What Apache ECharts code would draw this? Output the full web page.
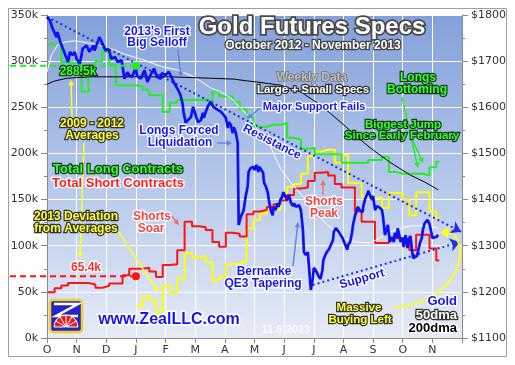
<!DOCTYPE html>
<html><head><meta charset="utf-8">
<script src="https://cdn.jsdelivr.net/npm/echarts@6/dist/echarts.min.js"></script>
<style>html,body{margin:0;padding:0;background:#fff}#c{width:515px;height:365px}</style>
</head><body><div id="c"></div>
<script>
// ---- axis / tick labels ----
const monthLabels = ['O','N','D','J','F','M','A','M','J','J','A','S','O','N',''];
const monthStartDays = [0,31,61,92,123,151,182,212,243,273,304,335,365,396,426]; // days from 2012-10-01
const leftTicks = {min:0, max:350, step:50};
const rightTicks = {min:1100, max:1800, step:100};

// ---- weekly COT data (thousands of contracts), first week 2012-10-02 ----
const firstWeekDay = 1;
const totalLongs = [318,320,299,298,298,267,296,300,310,296,274,274,274,273,269,263,263,245,255,258,258,258,258,256,267,262,262,256,248,240,229,229,231,231,233,217,215,205,206,199,199,199,199,190,190,190,190,193,193,196,180,178,178,178,178,176,185,191];
const totalShorts = [49.5,54,57,59.5,59.5,59.5,58,54.5,56.5,59,59,68,75,75,76,72,66,79,80,95,126,121,120,117,104,99,114,113,110,134,137,139,142,145,149,155,162,163,170,179,180,176,167,163,163,137,126,126,103,103,108,108,107,95,112,112,97,84];
const deviationStartWeek = 13;
const deviation2013 = [35,45,41,28,57,49,64,92,87,89,82,62,66,80,81,83,119,128,135,139,139,150,164,167,178,197,202,204,204,190,198,168,168,153,152,152,141,157,157,150,133,158,158,137,130];

// ---- gold (day offset from 2012-10-01, $/oz) ----
const goldPrice = [[0,1796],[3,1788],[6,1770],[10,1752],[11,1763],[14,1741],[16,1738],[20,1709],[22,1698],[24,1720],[27,1713],[29,1720],[31,1705],[34,1694],[36,1713],[37,1727],[41,1734],[44,1720],[48,1734],[49,1723],[53,1745],[54,1752],[58,1734],[60,1723],[61,1720],[63,1727],[65,1716],[66,1705],[70,1709],[73,1698],[77,1702],[80,1662],[82,1662],[83,1676],[85,1669],[88,1666],[92,1687],[93,1669],[97,1662],[101,1680],[104,1655],[108,1673],[111,1684],[114,1666],[118,1662],[119,1674],[123,1670],[126,1677],[129,1663],[131,1653],[135,1637],[137,1627],[139,1609],[140,1590],[142,1566],[144,1572],[147,1579],[149,1601],[150,1594],[152,1579],[154,1568],[157,1572],[159,1588],[160,1577],[162,1590],[164,1601],[167,1612],[170,1601],[175,1594],[178,1590],[181,1583],[183,1577],[185,1555],[186,1568],[188,1562],[190,1544],[191,1557],[193,1546],[195,1523],[196,1345],[198,1362],[201,1377],[203,1406],[205,1428],[206,1460],[208,1468],[211,1471],[212,1464],[214,1475],[216,1460],[217,1471],[219,1468],[221,1458],[222,1436],[224,1428],[226,1414],[227,1399],[229,1377],[231,1366],[232,1384],[234,1377],[236,1392],[237,1384],[239,1399],[241,1406],[242,1416],[244,1414],[246,1399],[248,1410],[250,1392],[252,1386],[253,1392],[255,1384],[258,1388],[260,1377],[262,1334],[263,1286],[265,1280],[267,1286],[268,1258],[270,1204],[272,1228],[273,1252],[275,1247],[277,1247],[278,1234],[280,1228],[282,1247],[283,1269],[286,1284],[288,1280],[289,1293],[291,1291],[293,1312],[294,1330],[296,1338],[298,1334],[299,1330],[301,1334],[303,1317],[304,1312],[306,1302],[308,1291],[309,1302],[311,1308],[313,1328],[314,1345],[316,1364],[318,1366],[319,1384],[321,1377],[324,1373],[325,1388],[327,1403],[329,1412],[330,1419],[332,1408],[334,1399],[335,1408],[337,1377],[339,1386],[340,1386],[342,1382],[344,1377],[345,1364],[347,1323],[349,1319],[350,1345],[352,1308],[354,1319],[356,1308],[357,1328],[359,1317],[360,1338],[363,1308],[365,1317],[366,1297],[368,1323],[370,1295],[371,1312],[373,1321],[375,1286],[376,1273],[378,1271],[380,1278],[381,1276],[383,1306],[385,1317],[386,1334],[388,1349],[390,1351],[391,1356],[393,1347],[395,1328],[396,1317],[398,1319],[400,1319],[402,1323]];
const gold50dma = [[0,1676],[5,1715],[11,1735],[18,1741],[29,1744],[39,1741],[49,1737],[60,1731],[70,1724],[80,1715],[90,1709],[101,1702],[111,1694],[121,1687],[134,1681],[150,1666],[167,1642],[178,1633],[188,1620],[198,1598],[205,1583],[216,1549],[229,1514],[239,1468],[250,1436],[265,1399],[275,1373],[286,1347],[294,1334],[304,1317],[316,1308],[332,1306],[342,1317],[352,1330],[363,1338],[373,1343],[383,1343],[393,1343],[402,1338]];
const gold200dma = [[0,1650],[8,1657],[21,1663],[44,1666],[85,1666],[126,1666],[167,1663],[191,1661],[205,1657],[214,1655],[239,1648],[260,1633],[280,1605],[301,1568],[316,1540],[332,1512],[352,1481],[373,1453],[388,1438],[402,1421]];

// averages & trend lines (values)
const longsAvgLevel = 295, longsAvgText = '288.5k';
const shortsAvgLevel = 67, shortsAvgText = '65.4k';
const averagesDay = 92; // 2013-01-01
const resistanceLine = [[0,1796],[425,1330]];
const supportLine = [[272,1215],[424,1308]];

function toM(day){
  for(let k=0;k<monthStartDays.length-1;k++){
    const s=monthStartDays[k], e=monthStartDays[k+1];
    if(day<e) return k+(day-s)/(e-s);
  }
  return monthStartDays.length-1;
}
function weekly(vals, startWeek){
  const out = vals.map((v,j)=>[toM(firstWeekDay+7*(startWeek+j)), v]);
  const lastDay = firstWeekDay+7*(startWeek+vals.length-1)+3;
  out.push([toM(lastDay), vals[vals.length-1]]);
  return out;
}
const daily = arr => arr.map(p=>[toM(p[0]), p[1]]);

const FONT = '"Liberation Sans", Arial, sans-serif';
const AXF = '"DejaVu Sans", Verdana, sans-serif';

const chart = echarts.init(document.getElementById('c'));
const option = {
  animation:false,
  backgroundColor:'#ffffff',
  grid:{left:47,right:53,top:15,bottom:27,show:true,borderWidth:0,
    backgroundColor:{type:'linear',x:0,y:0,x2:0,y2:1,colorStops:[{offset:0,color:'#82a0da'},{offset:0.5,color:'#b4c6ea'},{offset:1,color:'#e6ecf6'}]}},
  xAxis:{type:'value',min:0,max:14,interval:1,
    axisLine:{show:true,lineStyle:{color:'#8a8a8a'}},
    axisTick:{show:true,length:5,lineStyle:{color:'#8a8a8a'}},
    axisLabel:{formatter:v=>monthLabels[v]||'',color:'#333',fontSize:11,fontFamily:AXF,margin:7,showMaxLabel:true},
    splitLine:{show:true,lineStyle:{color:'#ffffff',width:1}}},
  yAxis:[
    {type:'value',position:'left',min:leftTicks.min,max:leftTicks.max,interval:leftTicks.step,
     axisLine:{show:true,lineStyle:{color:'#8a8a8a'}},
     axisTick:{show:true,length:6,lineStyle:{color:'#8a8a8a'}},
     minorTick:{show:true,splitNumber:2,length:3,lineStyle:{color:'#8a8a8a'}},
     axisLabel:{formatter:v=>v+'k',color:'#333',fontSize:11,fontFamily:AXF,margin:9},
     splitLine:{show:true,lineStyle:{color:'#ffffff',width:1}}},
    {type:'value',position:'right',min:rightTicks.min,max:rightTicks.max,interval:rightTicks.step,
     axisLine:{show:true,lineStyle:{color:'#8a8a8a'}},
     axisTick:{show:true,length:6,lineStyle:{color:'#8a8a8a'}},
     minorTick:{show:true,splitNumber:2,length:3,lineStyle:{color:'#8a8a8a'}},
     axisLabel:{formatter:v=>'$'+v,color:'#333',fontSize:11,fontFamily:AXF,margin:9},
     splitLine:{show:false}}
  ],
  series:[
    {type:'line',name:'deviation',data:weekly(deviation2013,deviationStartWeek),step:'end',symbol:'none',yAxisIndex:0,lineStyle:{color:'#ffff00',width:2},z:2},
    {type:'line',name:'shorts',data:weekly(totalShorts,0),step:'end',symbol:'none',yAxisIndex:0,lineStyle:{color:'#ff1414',width:2},z:3},
    {type:'line',name:'longs',data:weekly(totalLongs,0),step:'end',symbol:'none',yAxisIndex:0,lineStyle:{color:'#22f022',width:2},z:4},
    {type:'line',name:'50dma',data:daily(gold50dma),symbol:'none',yAxisIndex:1,lineStyle:{color:'#ffffff',width:1},z:5},
    {type:'line',name:'200dma',data:daily(gold200dma),symbol:'none',yAxisIndex:1,lineStyle:{color:'#000000',width:1},z:5},
    {type:'line',name:'gold',data:daily(goldPrice),symbol:'none',yAxisIndex:1,lineStyle:{color:'#0c12f0',width:2.7},z:6,
     markLine:{silent:true,symbol:['none','arrow'],symbolSize:10,label:{show:false},
       lineStyle:{type:[2,3],width:2,color:'#1e2ee6'},
       data:[
         [{coord:[toM(resistanceLine[0][0]),resistanceLine[0][1]]},{coord:[toM(resistanceLine[1][0]),resistanceLine[1][1]]}],
         [{coord:[toM(supportLine[0][0]),supportLine[0][1]]},{coord:[toM(supportLine[1][0]),supportLine[1][1]]}]
       ]}}
  ]
};
chart.setOption(option);

// ---- annotations ----
const G = [];
function txt(t,x,y,size,fill,stroke,lw,extra){
  const st = {text:t,x:0,y:0,font:'bold '+size+'px '+FONT,fill:fill,align:'center',verticalAlign:'middle',textAlign:'center',textVerticalAlign:'middle'};
  if(stroke){st.stroke=stroke;st.lineWidth=lw||2.5;}
  const el = {type:'text',x:x,y:y,z:110,style:st};
  if(extra){ if(extra.rotation!==undefined) el.rotation=extra.rotation; if(extra.align){st.align=extra.align;st.textAlign=extra.align;} }
  G.push(el);
}
function arrow(x1,y1,x2,y2,color,w,h){
  const a=Math.atan2(y2-y1,x2-x1); h=h||6;
  const p1=[x2-h*Math.cos(a-0.5),y2-h*Math.sin(a-0.5)], p2=[x2-h*Math.cos(a+0.5),y2-h*Math.sin(a+0.5)];
  const bx=x2-h*0.8*Math.cos(a), by=y2-h*0.8*Math.sin(a);
  G.push({type:'line',z:100,shape:{x1:x1,y1:y1,x2:bx,y2:by},style:{stroke:color,lineWidth:w}});
  G.push({type:'polygon',z:100,shape:{points:[[x2,y2],p1,p2]},style:{fill:color}});
}
const px = (m,v,ax)=>chart.convertToPixel({xAxisIndex:0,yAxisIndex:ax},[m,v]);

// dashed average lines with dots
const pL = px(toM(averagesDay),longsAvgLevel,0);
const pS = px(toM(averagesDay),shortsAvgLevel,0);
G.push({type:'line',z:99,shape:{x1:10,y1:pL[1],x2:pL[0],y2:pL[1]},style:{stroke:'#22f022',lineWidth:2,lineDash:[6,4]}});
G.push({type:'circle',z:99,shape:{cx:pL[0],cy:pL[1],r:4},style:{fill:'#22f022'}});
G.push({type:'line',z:99,shape:{x1:10,y1:pS[1],x2:pS[0],y2:pS[1]},style:{stroke:'#ff1414',lineWidth:2,lineDash:[6,4]}});
G.push({type:'circle',z:99,shape:{cx:pS[0],cy:pS[1],r:4},style:{fill:'#ff1414'}});

// arrows
const LB='#6f7fe8', YL='#ffff22', GR='#22f022', PK='#f07070';
arrow(178,50,181,77,LB,1.5,6);
arrow(72,118,71,80,YL,1.5,6);
arrow(84,143,80,258,YL,1.5,6);
arrow(118,231,158,292,YL,1.5,6);
arrow(217,143,232,143,LB,1.5,6);
arrow(170,214,179,225,PK,1.5,6);
arrow(260,108,247,119,LB,1.5,6);
arrow(402,97,418,168,GR,1.5,6);
arrow(413,141,423,163,GR,1.5,6);
arrow(323,195,323,180,PK,1.5,6);
arrow(293,266,298,222,LB,1.5,6);
// curved yellow arrow
G.push({type:'bezierCurve',z:100,shape:{x1:393,y1:308,cpx1:470,cpy1:300,cpx2:470,cpy2:232,x2:446,y2:233},style:{stroke:YL,lineWidth:2,fill:null}});
G.push({type:'polygon',z:100,shape:{points:[[440,232],[449,227],[448,238]]},style:{fill:YL}});

// logo
G.push({type:'rect',z:100,shape:{x:50,y:300,width:32,height:32,r:3},style:{fill:'#2424c8',stroke:'#f2d020',lineWidth:2.5}});
G.push({type:'polyline',z:101,shape:{points:[[54,304],[78,304],[56,316],[78,316]]},style:{stroke:'#ffffff',lineWidth:2.5,fill:null}});
G.push({type:'sector',z:102,shape:{cx:66,cy:327,r:12,r0:1,startAngle:Math.PI,endAngle:2*Math.PI},style:{fill:'#e62020',stroke:'#ffffff',lineWidth:1}});
for(let k=1;k<6;k++){const a=Math.PI+k*Math.PI/6;G.push({type:'line',z:103,shape:{x1:66,y1:327,x2:66+12*Math.cos(a),y2:327+12*Math.sin(a)},style:{stroke:'#ffffff',lineWidth:1}});}

// texts
const BL='#1616ee';
txt('Gold Futures Specs',312,27,24,'#ffffff','#4a4a4a',3.5);
txt('October 2012 - November 2013',313,46,12,'#ffffff','#444444',2.5);
txt("2013's First",157,32,12,BL,'#ffffff',2.5);
txt('Big Selloff',157,43,12,BL,'#ffffff',2.5);
txt(longsAvgText,78,72,12,'#33ff33','#1c3a1c',2.5);
txt('2009 - 2012',92,124,12,'#ffff33','#333333',2.5);
txt('Averages',92,136,12,'#ffff33','#333333',2.5);
txt('Longs Forced',179,131,12,BL,'#ffffff',2.5);
txt('Liquidation',180,143,12,BL,'#ffffff',2.5);
txt('Total Long Contracts',118,169,13,'#33ff33','#1c3a1c',2.5);
txt('Total Short Contracts',118,183,13,'#ff2020','#ffffff',2.5);
txt('2013 Deviation',76,217,12,'#ffff33','#333333',2.5);
txt('from Averages',76,229,12,'#ffff33','#333333',2.5);
txt('Shorts',152,217,12,'#f04646','#ffffff',2.5);
txt('Soar',151,229,12,'#f04646','#ffffff',2.5);
txt(shortsAvgText,86,268,12,'#ff3030','#ffffff',2.5);
txt('www.ZealLLC.com',169,320,16,BL,'#ffffff',3);
txt('Weekly Data',312,78,12,'#bdbdbd','#707070',1.5);
txt('Large + Small Specs',313,90,11.5,'#ffffff','#333333',2.5);
txt('Major Support Fails',314,107,11,BL,'#ffffff',2.5);
txt('Resistance',272,142,12,BL,'#ffffff',2.5,{rotation:-0.47});
txt('Longs',418,78,12,'#33ff33','#1c3a1c',2.5);
txt('Bottoming',417,90,12,'#33ff33','#1c3a1c',2.5);
txt('Biggest Jump',403,125,11.5,'#33ff33','#1c3a1c',2.5);
txt('Since Early February',402,136,11.5,'#33ff33','#1c3a1c',2.5);
txt('Shorts',324,202,12,'#f04646','#ffffff',2.5);
txt('Peak',324,214,12,'#f04646','#ffffff',2.5);
txt('Bernanke',264,272,12,BL,'#ffffff',2.5);
txt('QE3 Tapering',263,284,12,BL,'#ffffff',2.5);
txt('Support',362,279,12,BL,'#ffffff',2.5,{rotation:0.28});
txt('Massive',359,308,11.5,'#ffff33','#333333',2.5);
txt('Buying Left',360,320,11.5,'#ffff33','#333333',2.5);
txt('Gold',457,301,13,BL,'#ffffff',2.5,{align:'right'});
txt('50dma',457,315,13,'#ffffff','#333333',2.5,{align:'right'});
txt('200dma',457,328,13,'#000000','#ffffff',2.5,{align:'right'});
txt('11.6.2013',286,330,11,'rgba(255,255,255,0.75)',null,0);
// outer frame
G.push({type:'rect',z:90,shape:{x:8.5,y:8.5,width:498,height:348},style:{fill:null,stroke:'#a0a0a0',lineWidth:1}});

chart.setOption({graphic:{elements:G}});
</script>
</body></html>
